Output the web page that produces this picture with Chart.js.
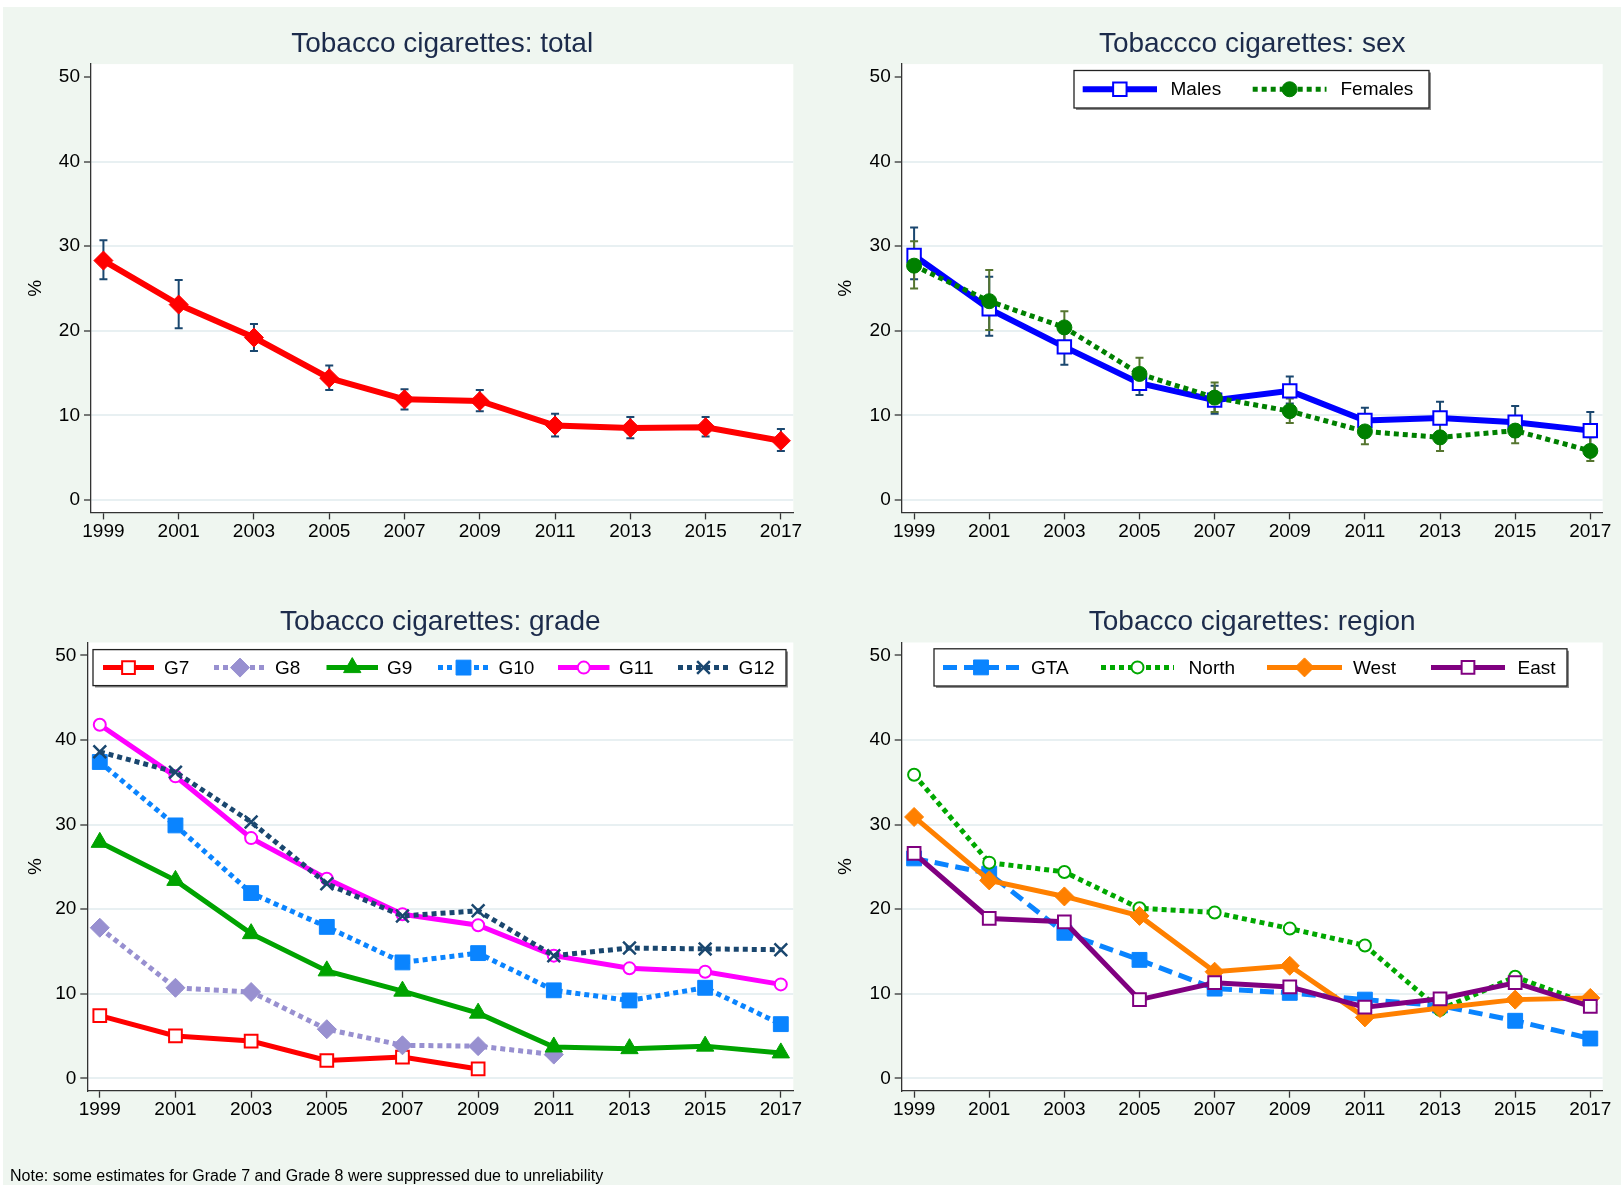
<!DOCTYPE html>
<html lang="en">
<head>
  <meta charset="UTF-8">
  <title>Tobacco cigarettes</title>
  <script src="https://cdn.jsdelivr.net/npm/chart.js"></script>
  <style>
    html, body { margin: 0; padding: 0; background: #fff; }
    body { width: 1621px; height: 1185px; position: relative; overflow: hidden;
           font-family: "Liberation Sans", Arial, sans-serif; }
    #bg { position: absolute; left: 3px; top: 7px; right: 0; bottom: 0; background: #EFF6F0; }
    canvas { position: absolute; }
    #tl { left: 0; top: 0; }
    #tr { left: 810px; top: 0; }
    #bl { left: 0; top: 560px; }
    #br { left: 810px; top: 560px; }
    #note { position: absolute; left: 10px; top: 1167px; font-size: 16px; color: #000; white-space: nowrap; }
  </style>
</head>
<body>
  <div id="bg"></div>
  <canvas id="tl" width="810" height="560"></canvas>
  <canvas id="tr" width="811" height="560"></canvas>
  <canvas id="bl" width="810" height="625"></canvas>
  <canvas id="br" width="811" height="625"></canvas>
  <div id="note">Note: some estimates for Grade 7 and Grade 8 were suppressed due to unreliability</div>

  <script>
    // survey years and axis ticks
    const years = [1999, 2001, 2003, 2005, 2007, 2009, 2011, 2013, 2015, 2017];
    const yTicks = [0, 10, 20, 30, 40, 50];

    // total, with 95% CI
    const totalPct = [28.3, 23.1, 19.2, 14.4, 11.9, 11.7, 8.8, 8.5, 8.6, 7.0];
    const totalLo  = [26.1, 20.3, 17.6, 13.0, 10.7, 10.5, 7.5, 7.3, 7.5, 5.8];
    const totalHi  = [30.7, 26.0, 20.8, 15.9, 13.1, 13.0, 10.2, 9.8, 9.8, 8.4];

    // sex
    const malesPct   = [28.9, 22.6, 18.1, 13.8, 11.8, 12.9, 9.4, 9.7, 9.2, 8.2];
    const malesLo    = [26.1, 19.4, 16.0, 12.4, 10.2, 11.4, 8.1, 8.0, 7.5, 6.3];
    const malesHi    = [32.2, 26.4, 20.2, 15.2, 13.5, 14.6, 10.9, 11.6, 11.1, 10.4];
    const femalesPct = [27.7, 23.5, 20.4, 14.9, 12.1, 10.5, 8.1, 7.4, 8.2, 5.8];
    const femalesLo  = [25.0, 20.1, 18.5, 13.2, 10.4, 9.1, 6.6, 5.8, 6.7, 4.6];
    const femalesHi  = [30.6, 27.2, 22.3, 16.8, 13.9, 12.0, 10.1, 9.4, 9.8, 7.4];

    // grade (G7/G8 suppressed in later years)
    const g7  = [7.4, 5.0, 4.4, 2.1, 2.5, 1.1, null, null, null, null];
    const g8  = [17.8, 10.7, 10.2, 5.8, 3.9, 3.8, 2.8, null, null, null];
    const g9  = [27.9, 23.4, 17.1, 12.7, 10.3, 7.7, 3.7, 3.5, 3.8, 3.0];
    const g10 = [37.4, 29.9, 21.9, 17.9, 13.7, 14.8, 10.4, 9.2, 10.7, 6.4];
    const g11 = [41.8, 35.7, 28.4, 23.6, 19.4, 18.1, 14.5, 13.0, 12.6, 11.1];
    const g12 = [38.6, 36.2, 30.3, 23.0, 19.2, 19.8, 14.5, 15.4, 15.3, 15.2];

    // region
    const gta   = [26.0, 24.2, 17.2, 14.0, 10.6, 10.1, 9.3, 8.6, 6.8, 4.7];
    const north = [35.9, 25.5, 24.4, 20.1, 19.6, 17.7, 15.7, 8.1, 12.0, 8.7];
    const west  = [30.9, 23.4, 21.5, 19.2, 12.6, 13.3, 7.2, 8.3, 9.3, 9.5];
    const east  = [26.6, 18.9, 18.5, 9.3, 11.3, 10.8, 8.4, 9.4, 11.3, 8.5];

    const FONT = '"Liberation Sans", Arial, sans-serif';
    Chart.defaults.font.family = FONT;
    Chart.defaults.color = '#000';

    function series(label, values, color, opt) {
      return Object.assign({
        label: label,
        data: years.map((yr, i) => ({ x: yr, y: values[i] })),
        borderColor: color,
        borderWidth: 5,
        pointBorderColor: color,
        pointBackgroundColor: opt.hollow ? '#ffffff' : color,
        pointBorderWidth: opt.hollow ? 2 : 1,
        pointHoverRadius: opt.pointRadius,
        tension: 0,
        fill: false,
        spanGaps: false
      }, opt);
    }

    // white plot region behind everything
    const plotBg = {
      id: 'plotBg',
      beforeDraw(chart) {
        const a = chart.chartArea, ctx = chart.ctx;
        ctx.save();
        ctx.fillStyle = '#ffffff';
        ctx.fillRect(a.left, a.top, a.right - a.left, a.bottom - a.top);
        ctx.restore();
      }
    };

    // capped CI bars
    const ciBars = {
      id: 'ciBars',
      beforeDatasetsDraw(chart, args, opts) {
        if (!opts || !opts.sets) return;
        const ctx = chart.ctx, xs = chart.scales.x, ys = chart.scales.y;
        ctx.save();
        opts.sets.forEach(s => {
          ctx.strokeStyle = s.color;
          ctx.lineWidth = 2;
          years.forEach((yr, i) => {
            if (s.lo[i] == null) return;
            const px = xs.getPixelForValue(yr);
            const p1 = ys.getPixelForValue(s.lo[i]);
            const p2 = ys.getPixelForValue(s.hi[i]);
            ctx.beginPath();
            ctx.moveTo(px, p1); ctx.lineTo(px, p2);
            ctx.moveTo(px - 4, p1); ctx.lineTo(px + 4, p1);
            ctx.moveTo(px - 4, p2); ctx.lineTo(px + 4, p2);
            ctx.stroke();
          });
        });
        ctx.restore();
      }
    };

    // legend box inside the plot, line sample with marker in the middle
    const boxLegend = {
      id: 'boxLegend',
      afterDraw(chart, args, opts) {
        if (!opts || !opts.box) return;
        const ctx = chart.ctx, b = opts.box;
        ctx.save();
        ctx.fillStyle = '#ffffff';
        ctx.fillRect(b.left, b.top, b.right - b.left, b.bottom - b.top);
        ctx.strokeStyle = '#8a8a8a';
        ctx.lineWidth = 2;
        ctx.beginPath();
        ctx.moveTo(b.left + 2, b.bottom + 1); ctx.lineTo(b.right + 1, b.bottom + 1); ctx.lineTo(b.right + 1, b.top + 2);
        ctx.stroke();
        ctx.strokeStyle = '#222';
        ctx.lineWidth = 1.3;
        ctx.strokeRect(b.left, b.top, b.right - b.left, b.bottom - b.top);
        const y = (b.top + b.bottom) / 2;
        chart.data.datasets.forEach((ds, i) => {
          const it = opts.items[i];
          ctx.setLineDash(ds.borderDash || []);
          ctx.strokeStyle = ds.borderColor;
          ctx.lineWidth = ds.borderWidth;
          ctx.beginPath();
          ctx.moveTo(it[0], y); ctx.lineTo(it[1], y);
          ctx.stroke();
          ctx.setLineDash([]);
          ctx.fillStyle = ds.pointBackgroundColor;
          ctx.strokeStyle = ds.pointBorderColor;
          ctx.lineWidth = ds.pointBorderWidth;
          Chart.helpers.drawPoint(ctx, {
            pointStyle: ds.pointStyle, radius: ds.pointRadius, rotation: 0, borderWidth: ds.pointBorderWidth
          }, (it[0] + it[1]) / 2, y);
          ctx.fillStyle = '#000';
          ctx.font = '19px ' + FONT;
          ctx.textBaseline = 'middle';
          ctx.textAlign = 'left';
          ctx.fillText(ds.label, it[2], y + 1);
        });
        ctx.restore();
      }
    };

    function makePanel(id, title, datasets, area, titleY, extra) {
      const canvas = document.getElementById(id);
      const W = canvas.width, H = canvas.height;
      datasets.forEach((d, i) => { d.order = datasets.length - i; });
      return new Chart(canvas, {
        type: 'line',
        data: { datasets: datasets },
        plugins: [plotBg, ciBars, boxLegend],
        options: {
          responsive: false,
          animation: false,
          events: [],
          layout: { padding: { left: 0, top: 0, right: W - area.right, bottom: 0 } },
          plugins: {
            legend: { display: false },
            tooltip: { enabled: false },
            title: {
              display: true,
              text: title,
              fullSize: false,
              color: '#1C2B4B',
              font: { size: 28, weight: 'normal', lineHeight: 1.2 },
              padding: { top: titleY - 16.8, bottom: area.top - titleY - 16.8 }
            },
            ciBars: extra.ci || {},
            boxLegend: extra.legend || {}
          },
          scales: {
            x: {
              type: 'linear',
              min: 1998.67,
              max: 2017.33,
              afterBuildTicks: s => { s.ticks = years.map(v => ({ value: v })); },
              afterFit: s => { s.height = H - area.bottom; },
              ticks: { autoSkip: false, maxRotation: 0, padding: 1, font: { size: 19 }, color: '#000',
                       callback: v => String(v) },
              grid: { drawOnChartArea: false, drawTicks: true, tickLength: 7, tickColor: '#333', tickWidth: 1.3 },
              border: { display: true, color: '#333', width: 1.3 }
            },
            y: {
              type: 'linear',
              min: -1.47,
              max: 51.53,
              afterBuildTicks: s => { s.ticks = yTicks.map(v => ({ value: v })); },
              afterFit: s => { s.width = area.left; },
              ticks: { autoSkip: false, padding: 4, font: { size: 19 }, color: '#000',
                       callback: v => String(v) },
              grid: {
                drawTicks: true, tickLength: 7, tickColor: '#333', tickWidth: 1.3, lineWidth: 2,
                color: c => (c.tick && c.tick.value === 50) ? 'rgba(0,0,0,0)' : '#E8F0F2'
              },
              border: { display: true, color: '#333', width: 1.3 },
              title: { display: true, text: '%', font: { size: 19 }, color: '#000', padding: { top: 24, bottom: 0 } }
            }
          }
        }
      });
    }

    // top left: total
    makePanel('tl', 'Tobacco cigarettes: total', [
      series('Total', totalPct, '#FF0000', { pointStyle: 'rectRot', pointRadius: 9.5, borderWidth: 6 })
    ], { left: 91, right: 793.3, top: 64.1, bottom: 512.4 }, 43.8, {
      ci: { sets: [{ lo: totalLo, hi: totalHi, color: '#1A476F' }] }
    });

    // top right: sex
    makePanel('tr', 'Tobaccco cigarettes: sex', [
      series('Males', malesPct, '#0000FF', { pointStyle: 'rect', pointRadius: 9.5, hollow: true, borderWidth: 6 }),
      series('Females', femalesPct, '#008000', { pointStyle: 'circle', pointRadius: 7.5, borderDash: [5, 4] })
    ], { left: 91.7, right: 792.7, top: 64.1, bottom: 512.4 }, 43.8, {
      ci: { sets: [
        { lo: malesLo, hi: malesHi, color: '#1A476F' },
        { lo: femalesLo, hi: femalesHi, color: '#55752F' }
      ] },
      legend: {
        box: { left: 264, top: 70.5, right: 619, bottom: 108 },
        items: [[272.7, 347, 360.5], [442.7, 516.5, 530.5]]
      }
    });

    // bottom left: grade
    makePanel('bl', 'Tobacco cigarettes: grade', [
      series('G7', g7, '#FF0000', { pointStyle: 'rect', pointRadius: 9, hollow: true }),
      series('G8', g8, '#9890D0', { pointStyle: 'rectRot', pointRadius: 9.5, borderDash: [5, 4] }),
      series('G9', g9, '#00A300', { pointStyle: 'triangle', pointRadius: 10 }),
      series('G10', g10, '#0A84FF', { pointStyle: 'rect', pointRadius: 10.5, borderDash: [5, 4] }),
      series('G11', g11, '#FF00FF', { pointStyle: 'circle', pointRadius: 6, hollow: true }),
      series('G12', g12, '#1A476F', { pointStyle: 'crossRot', pointRadius: 9, pointBorderWidth: 2.5, borderDash: [5, 4] })
    ], { left: 87.3, right: 793.3, top: 82.5, bottom: 530.7 }, 62.3, {
      legend: {
        box: { left: 93, top: 89.6, right: 786, bottom: 125.6 },
        items: [[103, 154, 164], [214, 266, 275], [326.5, 378, 387], [438, 489, 498.5], [558, 609.5, 619], [678, 729, 738.6]]
      }
    });

    // bottom right: region
    makePanel('br', 'Tobacco cigarettes: region', [
      series('GTA', gta, '#0A84FF', { pointStyle: 'rect', pointRadius: 10.5, borderDash: [14, 7] }),
      series('North', north, '#00A800', { pointStyle: 'circle', pointRadius: 6, hollow: true, borderDash: [5, 4] }),
      series('West', west, '#FF8000', { pointStyle: 'rectRot', pointRadius: 9.5 }),
      series('East', east, '#800080', { pointStyle: 'rect', pointRadius: 9, hollow: true })
    ], { left: 91.7, right: 792.7, top: 82.5, bottom: 530.7 }, 62.3, {
      legend: {
        box: { left: 124, top: 88.8, right: 757, bottom: 126 },
        items: [[133, 209, 221], [291, 364, 378.6], [457, 532, 543], [621, 695, 707.6]]
      }
    });
  </script>
</body>
</html>
